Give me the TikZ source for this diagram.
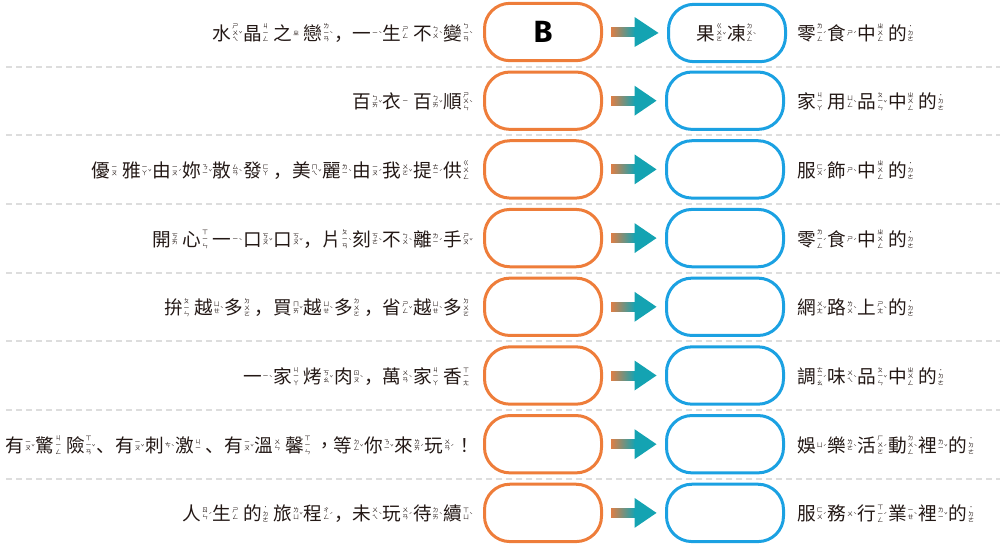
\documentclass[tikz,border=0pt]{standalone}
\usepackage{fontspec}
\setmainfont{Noto Sans CJK TC}
\newfontfamily\punctfont{Noto Sans CJK SC}
\newfontfamily\letterfont{Fira Sans}
\usepackage{xcolor}
\usetikzlibrary{calc}
\definecolor{ansorange}{RGB}{238,125,58}
\definecolor{catblue}{RGB}{27,161,226}
\definecolor{arrorange}{RGB}{222,126,70}
\definecolor{arrteal}{RGB}{20,163,178}
\definecolor{sepgrey}{RGB}{221,221,221}
\definecolor{inkblack}{RGB}{35,24,21}

% zhuyin beside a character: \zy{char}{symbols}{tone}
\makeatletter
\newsavebox\zybox
\newcommand\zystack[1]{\vbox{\offinterlineskip\@tfor\zz:=#1\do{\hbox to 5pt{\hss\vrule height 4.2pt depth 0.8pt width 0pt\zz\hss}}}}
\makeatother
\newcommand\zy[3]{#1\kern0.4pt\sbox\zybox{\fontsize{4.5}{5}\selectfont\zystack{#2}}\raisebox{\dimexpr 0.38em-(\ht\zybox-\dp\zybox)/2\relax}{\usebox\zybox}\raisebox{\dimexpr 0.38em-3pt\relax}{\fontsize{4.5}{5}\selectfont\hbox to 2.5pt{#3\hss}}\kern0.8pt}
\newcommand\pc[1]{{\punctfont #1}}

\begin{document}
\begin{tikzpicture}[x=0.75pt, y=-0.75pt,
  slogan/.style={anchor=east, inner sep=0, text=inkblack, font=\fontsize{14}{16}\selectfont, text height=12.3pt, text depth=1.7pt},
  kind/.style={anchor=west, inner sep=0, text=inkblack, font=\fontsize{14}{16}\selectfont, text height=12.3pt, text depth=1.7pt},
  ansbox/.style={rectangle, rounded corners=19pt, draw=ansorange, line width=2.25pt, minimum width=87.75pt, minimum height=43pt, inner sep=0, text=black},
  catbox/.style={rectangle, rounded corners=19pt, draw=catblue, line width=2.25pt, minimum width=87.75pt, minimum height=43pt, inner sep=0, text=inkblack, font=\fontsize{14}{16}\selectfont},
  sepline/.style={draw=sepgrey, line width=1.5pt, dash pattern=on 4.5pt off 3pt}
]
\useasboundingbox (0,0) rectangle (1000,546);

% separators
\draw[sepline] (6,66.5) -- (1000,66.5);
\draw[sepline] (6,135.2) -- (1000,135.2);
\draw[sepline] (6,203.9) -- (1000,203.9);
\draw[sepline] (6,272.6) -- (1000,272.6);
\draw[sepline] (6,341.3) -- (1000,341.3);
\draw[sepline] (6,410) -- (1000,410);
\draw[sepline] (6,478.7) -- (1000,478.7);

% answer boxes
\node[ansbox] (o1) at (543,32) {\letterfont\bfseries\fontsize{23}{23}\selectfont B};
\node[ansbox] (o2) at (543,100.7) {};
\node[ansbox] (o3) at (543,169.4) {};
\node[ansbox] (o4) at (543,238.1) {};
\node[ansbox] (o5) at (543,306.8) {};
\node[ansbox] (o6) at (543,375.5) {};
\node[ansbox] (o7) at (543,444.2) {};
\node[ansbox] (o8) at (543,512.9) {};

% category boxes
\node[catbox] (c1) at (727,33) {\zy{果}{ㄍㄨㄛ}{ˇ}\zy{凍}{ㄉㄨㄥ}{ˋ}};
\node[catbox] (c2) at (725,100.7) {};
\node[catbox] (c3) at (725,169.4) {};
\node[catbox] (c4) at (725,238.1) {};
\node[catbox] (c5) at (725,306.8) {};
\node[catbox] (c6) at (725,375.5) {};
\node[catbox] (c7) at (725,444.2) {};
\node[catbox] (c8) at (725,512.9) {};

% slogans
\node[slogan] (s1) at (474,33) {\zy{水}{ㄕㄨㄟ}{ˇ}\zy{晶}{ㄐㄧㄥ}{}\zy{之}{ㄓ}{}\zy{戀}{ㄌㄧㄢ}{ˋ}\pc{，}\zy{一}{ㄧ}{ˋ}\zy{生}{ㄕㄥ}{}\zy{不}{ㄅㄨ}{ˋ}\zy{變}{ㄅㄧㄢ}{ˋ}};
\node[slogan] (s2) at (474,101.7) {\zy{百}{ㄅㄞ}{ˇ}\zy{衣}{ㄧ}{}\zy{百}{ㄅㄞ}{ˇ}\zy{順}{ㄕㄨㄣ}{ˋ}};
\node[slogan] (s3) at (474,170.4) {\zy{優}{ㄧㄡ}{}\zy{雅}{ㄧㄚ}{ˇ}\zy{由}{ㄧㄡ}{ˊ}\zy{妳}{ㄋㄧ}{ˇ}\zy{散}{ㄙㄢ}{ˋ}\zy{發}{ㄈㄚ}{}\pc{，}\zy{美}{ㄇㄟ}{ˇ}\zy{麗}{ㄌㄧ}{ˋ}\zy{由}{ㄧㄡ}{ˊ}\zy{我}{ㄨㄛ}{ˇ}\zy{提}{ㄊㄧ}{ˊ}\zy{供}{ㄍㄨㄥ}{}};
\node[slogan] (s4) at (474,239.1) {\zy{開}{ㄎㄞ}{}\zy{心}{ㄒㄧㄣ}{}\zy{一}{ㄧ}{ˋ}\zy{口}{ㄎㄡ}{ˇ}\zy{口}{ㄎㄡ}{ˇ}\pc{，}\zy{片}{ㄆㄧㄢ}{ˋ}\zy{刻}{ㄎㄜ}{ˋ}\zy{不}{ㄅㄨ}{ˋ}\zy{離}{ㄌㄧ}{ˊ}\zy{手}{ㄕㄡ}{ˇ}};
\node[slogan] (s5) at (474,307.8) {\zy{拚}{ㄆㄧㄣ}{}\zy{越}{ㄩㄝ}{ˋ}\zy{多}{ㄉㄨㄛ}{}\pc{，}\zy{買}{ㄇㄞ}{ˇ}\zy{越}{ㄩㄝ}{ˋ}\zy{多}{ㄉㄨㄛ}{}\pc{，}\zy{省}{ㄕㄥ}{ˇ}\zy{越}{ㄩㄝ}{ˋ}\zy{多}{ㄉㄨㄛ}{}};
\node[slogan] (s6) at (474,376.5) {\zy{一}{ㄧ}{ˋ}\zy{家}{ㄐㄧㄚ}{}\zy{烤}{ㄎㄠ}{ˇ}\zy{肉}{ㄖㄡ}{ˋ}\pc{，}\zy{萬}{ㄨㄢ}{ˋ}\zy{家}{ㄐㄧㄚ}{}\zy{香}{ㄒㄧㄤ}{}};
\node[slogan] (s7) at (474,445.2) {\zy{有}{ㄧㄡ}{ˇ}\zy{驚}{ㄐㄧㄥ}{}\zy{險}{ㄒㄧㄢ}{ˇ}\pc{、}\zy{有}{ㄧㄡ}{ˇ}\zy{刺}{ㄘ}{ˋ}\zy{激}{ㄐㄧ}{}\pc{、}\zy{有}{ㄧㄡ}{ˇ}\zy{溫}{ㄨㄣ}{}\zy{馨}{ㄒㄧㄣ}{}，\zy{等}{ㄉㄥ}{ˇ}\zy{你}{ㄋㄧ}{ˇ}\zy{來}{ㄌㄞ}{ˊ}\zy{玩}{ㄨㄢ}{ˊ}！};
\node[slogan] (s8) at (474,513.9) {\zy{人}{ㄖㄣ}{ˊ}\zy{生}{ㄕㄥ}{}\zy{的}{˙ㄉㄜ}{}\zy{旅}{ㄌㄩ}{ˇ}\zy{程}{ㄔㄥ}{ˊ}\pc{，}\zy{未}{ㄨㄟ}{ˋ}\zy{玩}{ㄨㄢ}{ˊ}\zy{待}{ㄉㄞ}{ˋ}\zy{續}{ㄒㄩ}{ˋ}};

% where it belongs
\node[kind] (k1) at (797,33) {\zy{零}{ㄌㄧㄥ}{ˊ}\zy{食}{ㄕ}{ˊ}\zy{中}{ㄓㄨㄥ}{}\zy{的}{˙ㄉㄜ}{}};
\node[kind] (k2) at (797,101.7) {\zy{家}{ㄐㄧㄚ}{}\zy{用}{ㄩㄥ}{ˋ}\zy{品}{ㄆㄧㄣ}{ˇ}\zy{中}{ㄓㄨㄥ}{}\zy{的}{˙ㄉㄜ}{}};
\node[kind] (k3) at (797,170.4) {\zy{服}{ㄈㄨ}{ˊ}\zy{飾}{ㄕ}{ˋ}\zy{中}{ㄓㄨㄥ}{}\zy{的}{˙ㄉㄜ}{}};
\node[kind] (k4) at (797,239.1) {\zy{零}{ㄌㄧㄥ}{ˊ}\zy{食}{ㄕ}{ˊ}\zy{中}{ㄓㄨㄥ}{}\zy{的}{˙ㄉㄜ}{}};
\node[kind] (k5) at (797,307.8) {\zy{網}{ㄨㄤ}{ˇ}\zy{路}{ㄌㄨ}{ˋ}\zy{上}{ㄕㄤ}{ˋ}\zy{的}{˙ㄉㄜ}{}};
\node[kind] (k6) at (797,376.5) {\zy{調}{ㄊㄧㄠ}{ˊ}\zy{味}{ㄨㄟ}{ˋ}\zy{品}{ㄆㄧㄣ}{ˇ}\zy{中}{ㄓㄨㄥ}{}\zy{的}{˙ㄉㄜ}{}};
\node[kind] (k7) at (797,445.2) {\zy{娛}{ㄩ}{ˊ}\zy{樂}{ㄌㄜ}{ˋ}\zy{活}{ㄏㄨㄛ}{ˊ}\zy{動}{ㄉㄨㄥ}{ˋ}\zy{裡}{ㄌㄧ}{ˇ}\zy{的}{˙ㄉㄜ}{}};
\node[kind] (k8) at (797,513.9) {\zy{服}{ㄈㄨ}{ˊ}\zy{務}{ㄨ}{ˋ}\zy{行}{ㄒㄧㄥ}{ˊ}\zy{業}{ㄧㄝ}{ˋ}\zy{裡}{ㄌㄧ}{ˇ}\zy{的}{˙ㄉㄜ}{}};

% arrows
\foreach \i in {1,...,8} {
  \shade[left color=arrorange, right color=arrteal] ($(o\i.east)+(8,-4.5)$) rectangle ($(o\i.east)+(32,4.5)$);
  \fill[arrteal] ($(o\i.east)+(31.5,-15)$) -- ($(c\i.west)+(-8.5,0)$) -- ($(o\i.east)+(31.5,15)$) -- cycle;
}
\end{tikzpicture}
\end{document}
